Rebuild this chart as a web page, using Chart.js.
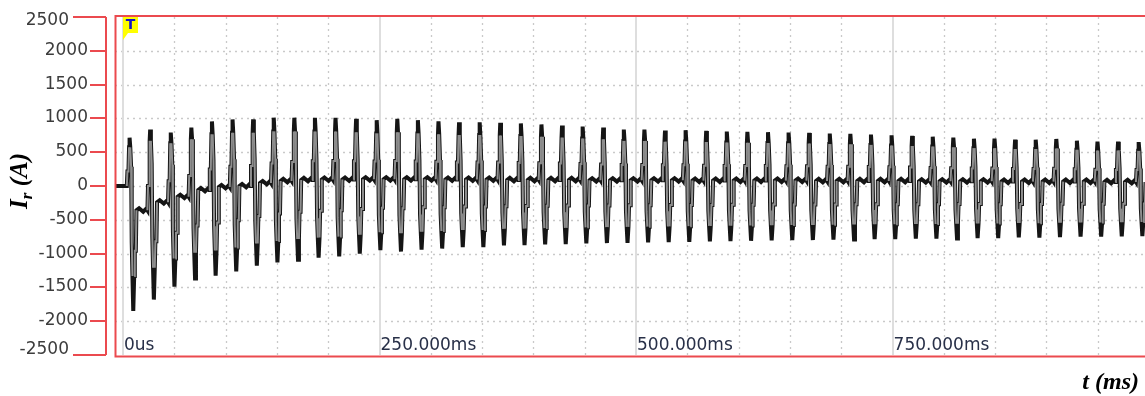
<!DOCTYPE html>
<html>
<head>
<meta charset="utf-8">
<title>Ir waveform</title>
<script src="https://cdn.jsdelivr.net/npm/chart.js@4.4.1/dist/chart.umd.min.js"></script>
<style>
  html, body { margin: 0; padding: 0; background: #fff; }
  #wrap { width: 1145px; height: 396px; }
</style>
</head>
<body>
<div id="wrap"><canvas id="irChart" width="1145" height="396"></canvas></div>
<script>
// time axis (ms)
const tStart = -7.8;
const tEnd = 996;
const firstTrough = 10.7;   // time of the first negative peak
const period = 20.07;       // one cycle
const timeTicks = [0, 250, 500, 750];
const timeLabels = ['0us', '250.000ms', '500.000ms', '750.000ms'];
const currentTicks = [2500, 2000, 1500, 1000, 500, 0, -500, -1000, -1500, -2000, -2500];

// current before the first pulse (A)
const startLevel = 0;

// positive peak of every cycle (A)
const peakHigh = [
    715, 835, 790, 865, 955, 985, 985, 1010, 1010, 1009,
    1009, 994, 973, 994, 973, 958, 943, 943, 935, 925,
    910, 895, 880, 864, 834, 834, 820, 825, 815, 805,
    800, 795, 790, 785, 775, 770, 760, 750, 740, 730,
    715, 700, 700, 685, 685, 695, 670, 655, 655, 650
];

// negative peak of every cycle (A)
const peakLow = [
    -1850, -1680, -1490, -1370, -1325, -1265, -1180, -1130, -1090, -1060,
    -1040, -1000, -950, -970, -940, -925, -905, -905, -880, -875,
    -865, -860, -850, -845, -840, -835, -830, -825, -820, -815,
    -810, -805, -800, -800, -795, -790, -785, -785, -780, -780,
    -775, -770, -770, -760, -765, -755, -750, -750, -745, -740
];

// flat level after every cycle (A)
const flatLevel = [
    -360, -240, -160, -60, -15, 0, 45, 75, 90, 95,
    95, 100, 100, 100, 100, 95, 95, 95, 90, 90,
    90, 90, 85, 85, 85, 85, 85, 80, 80, 80,
    80, 80, 80, 75, 75, 75, 75, 75, 70, 70,
    70, 70, 65, 65, 65, 65, 65, 60, 60, 60
];

// build the trace point by point, cycle after cycle
const tone = [];
function buildWave() {
    const pts = [];
    function add(t, v, kind) {
        pts.push({ x: t, y: v });
        tone.push(kind);
    }
    add(tStart, startLevel, 'dark');
    for (let k = 0; k < peakHigh.length; k++) {
        const T = firstTrough + k * period;
        const prev = k === 0 ? startLevel : flatLevel[k - 1];
        const hi = peakHigh[k];
        const lo = peakLow[k];
        const base = flatLevel[k];
        const up = prev + 0.3 * (hi - prev);
        const down = base + 0.4 * (lo - base);

        add(T - 7.0, prev, 'edge');
        add(T - 6.4, up, 'edge');
        add(T - 5.4, up, 'edge');
        add(T - 4.8, hi * 0.8, 'dark');
        add(T - 4.3, hi, 'dark');
        add(T - 3.6, hi * 0.8, 'edge');
        add(T - 2.8, hi * 0.4, 'edge');
        add(T - 2.2, lo * 0.45, 'edge');
        add(T - 1.5, lo * 0.72, 'dark');
        add(T - 0.7, lo, 'dark');
        add(T + 0.2, lo * 0.72, 'edge');
        add(T + 0.8, down, 'edge');
        add(T + 1.8, down, 'edge');
        add(T + 2.4, base, 'dark');
        add(T + 5.0, base + 30, 'dark');
        add(T + 9.0, base - 20, 'dark');
        add(T + 12.0, base + 25, 'dark');
    }
    return pts;
}

const wave = buildWave();

// grid, red frame, labels
const irFrame = {
    id: 'irFrame',
    beforeDatasetsDraw(chart) {
        const { ctx, chartArea: a, scales: { x, y } } = chart;
        ctx.save();
        // dotted grid
        ctx.strokeStyle = '#c9c9c9';
        ctx.lineWidth = 1.3;
        ctx.setLineDash([2, 4]);
        for (let t = 50; t < tEnd; t += 50) {
            if (t % 250 === 0) continue;
            const px = Math.round(x.getPixelForValue(t)) + 0.5;
            ctx.beginPath();
            ctx.moveTo(px, a.top);
            ctx.lineTo(px, a.bottom);
            ctx.stroke();
        }
        currentTicks.forEach(v => {
            if (Math.abs(v) === 2500) return;
            const py = Math.round(y.getPixelForValue(v)) + 0.5;
            ctx.beginPath();
            ctx.moveTo(a.left, py);
            ctx.lineTo(a.right, py);
            ctx.stroke();
        });
        // solid lines on labelled times
        ctx.setLineDash([]);
        ctx.strokeStyle = '#dedede';
        ctx.lineWidth = 2;
        timeTicks.forEach(t => {
            const px = Math.round(x.getPixelForValue(t));
            ctx.beginPath();
            ctx.moveTo(px, a.top);
            ctx.lineTo(px, a.bottom);
            ctx.stroke();
        });
        ctx.restore();
    },
    afterDatasetsDraw(chart) {
        const { ctx, chartArea: a, scales: { x, y } } = chart;
        ctx.save();

        // plot frame
        ctx.strokeStyle = '#eb4a4f';
        ctx.lineWidth = 2;
        ctx.beginPath();
        ctx.moveTo(1146, 16);
        ctx.lineTo(115.5, 16);
        ctx.lineTo(115.5, 356.5);
        ctx.lineTo(1146, 356.5);
        ctx.stroke();

        // y axis line and ticks
        ctx.beginPath();
        ctx.moveTo(106, y.getPixelForValue(2500));
        ctx.lineTo(106, y.getPixelForValue(-2500));
        ctx.stroke();
        ctx.font = '17px "DejaVu Sans"';
        ctx.fillStyle = '#3c3c3c';
        ctx.textAlign = 'right';
        ctx.textBaseline = 'middle';
        currentTicks.forEach(v => {
            const py = Math.round(y.getPixelForValue(v));
            const edge = Math.abs(v) === 2500;
            ctx.beginPath();
            ctx.moveTo(edge ? 73 : 90, py);
            ctx.lineTo(106, py);
            ctx.stroke();
            const dy = v === 2500 ? 4 : (v === -2500 ? -5 : 0);
            ctx.fillText(String(v), edge ? 69 : 88, py + dy);
        });

        // time labels inside the plot
        ctx.fillStyle = '#283048';
        ctx.textAlign = 'left';
        ctx.textBaseline = 'alphabetic';
        timeTicks.forEach((t, i) => {
            ctx.fillText(timeLabels[i], x.getPixelForValue(t) + 1, 350);
        });

        // trigger marker
        const mx = x.getPixelForValue(0);
        ctx.fillStyle = '#ffff00';
        ctx.beginPath();
        ctx.moveTo(mx, 17);
        ctx.lineTo(mx + 15, 17);
        ctx.lineTo(mx + 15, 33);
        ctx.lineTo(mx + 5, 33);
        ctx.lineTo(mx, 40);
        ctx.closePath();
        ctx.fill();
        ctx.fillStyle = '#1414c8';
        ctx.font = 'bold 14px "DejaVu Sans"';
        ctx.textAlign = 'center';
        ctx.textBaseline = 'middle';
        ctx.fillText('T', mx + 7.5, 25.5);

        // x title
        ctx.fillStyle = '#000';
        ctx.font = 'italic bold 24px "Liberation Serif"';
        ctx.textAlign = 'right';
        ctx.textBaseline = 'alphabetic';
        ctx.fillText('t (ms)', 1139, 389);

        // y title, rotated
        ctx.translate(27, 181);
        ctx.rotate(-Math.PI / 2);
        const big = 'italic bold 25px "Liberation Serif"';
        const small = 'italic bold 17px "Liberation Serif"';
        ctx.font = big;
        const wI = ctx.measureText('I').width;
        const wA = ctx.measureText(' (A)').width;
        ctx.font = small;
        const wR = ctx.measureText('r').width;
        let cx = -(wI + wR + wA) / 2;
        ctx.textAlign = 'left';
        ctx.font = big;
        ctx.fillText('I', cx, 0);
        cx += wI;
        ctx.font = small;
        ctx.fillText('r', cx, 5);
        cx += wR;
        ctx.font = big;
        ctx.fillText(' (A)', cx, 0);

        ctx.restore();
    }
};

const ctx = document.getElementById('irChart').getContext('2d');
const irChart = new Chart(ctx, {
    type: 'line',
    data: {
        datasets: [
            {
                // grey core of the steep edges
                data: wave,
                borderColor: '#8e8e8e',
                borderWidth: 2,
                pointRadius: 0,
                tension: 0,
                order: 1,
                segment: {
                    borderColor: c => tone[c.p0DataIndex] === 'edge' ? '#8e8e8e' : 'rgba(0,0,0,0)'
                }
            },
            {
                // dark outline of the trace
                data: wave,
                borderColor: '#151515',
                borderWidth: 4,
                pointRadius: 0,
                tension: 0,
                order: 2
            }
        ]
    },
    options: {
        responsive: false,
        animation: false,
        devicePixelRatio: 1,
        parsing: false,
        normalized: true,
        layout: { padding: { left: 115, top: 17, right: 0, bottom: 41 } },
        plugins: {
            legend: { display: false },
            tooltip: { enabled: false }
        },
        scales: {
            x: { type: 'linear', min: tStart, max: tEnd, display: false },
            y: { type: 'linear', min: -2500, max: 2500, display: false }
        }
    },
    plugins: [irFrame]
});
</script>
</body>
</html>
